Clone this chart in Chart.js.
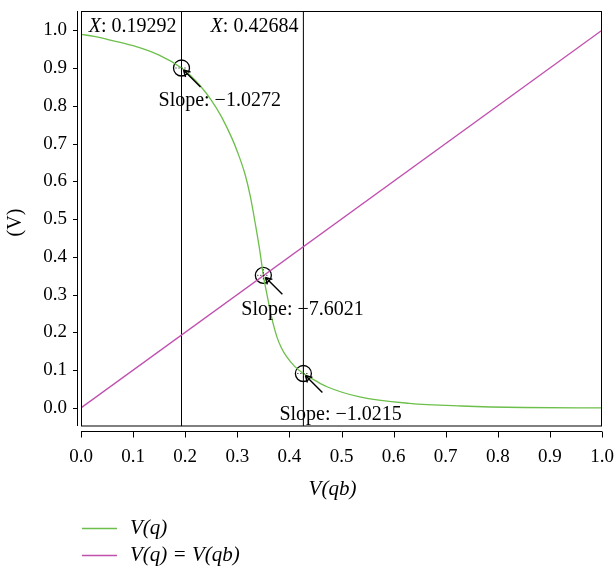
<!DOCTYPE html>
<html lang="en">
<head>
  <meta charset="UTF-8" />
  <title>V(q) vs V(qb)</title>
  <script src="https://cdn.jsdelivr.net/npm/chart.js"></script>
  <style>
    body {
      margin: 0;
      background: #fff;
    }
    canvas {
      display: block;
    }
  </style>
</head>
<body>
  <canvas id="chart" width="615" height="570"></canvas>

  <script>
    // values
    const vqX = [0, 0.025, 0.05, 0.10, 0.15, 0.19292, 0.21, 0.23, 0.25, 0.27, 0.29, 0.30, 0.315, 0.325,
                 0.335, 0.343, 0.350, 0.357, 0.365, 0.376, 0.385, 0.395, 0.41, 0.42684, 0.45, 0.472,
                 0.535, 0.63, 0.73, 0.85, 1.0];
    const vqY = [0.989, 0.984, 0.976, 0.959, 0.934, 0.900, 0.880, 0.851, 0.815, 0.770, 0.713, 0.679,
                 0.618, 0.560, 0.484, 0.418, 0.351, 0.300, 0.245, 0.188, 0.158, 0.135, 0.110, 0.091,
                 0.072, 0.056, 0.029, 0.012, 0.005, 0.001, 0.000];
    const diagX = [0, 1];
    const diagY = [0, 1];
    const markX = [0.19292, 0.350, 0.42684];
    const markY = [0.900, 0.351, 0.091];
    const slopes = ['\u22121.0272', '\u22127.6021', '\u22121.0215'];
    const cursorX = [0.19292, 0.42684];
    const cursorText = ['0.19292', '0.42684'];
    const xTicks = [0, 0.1, 0.2, 0.3, 0.4, 0.5, 0.6, 0.7, 0.8, 0.9, 1.0];
    const yTicks = [0, 0.1, 0.2, 0.3, 0.4, 0.5, 0.6, 0.7, 0.8, 0.9, 1.0];
    const legendNames = ['V(q)', 'V(q) = V(qb)'];

    const yMin = -0.048, yMax = 1.051;
    const green = '#6cbf4a';
    const pink = '#c04fae';
    const serif = '"Liberation Serif", "DejaVu Serif", serif';

    const toPts = (xs, ys) => xs.map((v, i) => ({ x: v, y: ys[i] }));

    const datasets = [
      {
        data: toPts(vqX, vqY),
        borderColor: green,
        borderWidth: 1.3,
        pointRadius: 0,
        cubicInterpolationMode: 'monotone'
      },
      {
        data: toPts(diagX, diagY),
        borderColor: pink,
        borderWidth: 1.3,
        pointRadius: 0
      }
    ];
    cursorX.forEach(cx => {
      datasets.push({
        data: [{ x: cx, y: yMin }, { x: cx, y: yMax }],
        borderColor: '#000',
        borderWidth: 1,
        pointRadius: 0
      });
    });
    datasets.push({
      type: 'scatter',
      data: toPts(markX, markY),
      pointStyle: 'circle',
      pointRadius: 8,
      backgroundColor: 'rgba(0,0,0,0)',
      borderColor: '#000',
      borderWidth: 1.3
    });

    const noPad = s => {
      s.paddingTop = 0;
      s.paddingBottom = 0;
      s.paddingLeft = 0;
      s.paddingRight = 0;
    };

    const decor = {
      id: 'decor',
      afterDraw(chart) {
        const { ctx, chartArea: a, scales: { x, y } } = chart;
        ctx.save();
        ctx.strokeStyle = '#000';
        ctx.fillStyle = '#000';
        ctx.lineWidth = 1;

        // frame and offset axes
        ctx.strokeRect(a.left + 0.5, a.top + 0.5, a.width - 1, a.height - 0.5);
        ctx.beginPath();
        ctx.moveTo(a.left - 3.5, a.top);
        ctx.lineTo(a.left - 3.5, a.bottom);
        yTicks.forEach(v => {
          const py = Math.round(y.getPixelForValue(v)) + 0.5;
          ctx.moveTo(a.left - 8, py);
          ctx.lineTo(a.left - 3.5, py);
        });
        const ay = a.bottom + 5.5;
        ctx.moveTo(a.left, ay);
        ctx.lineTo(a.right, ay);
        xTicks.forEach(v => {
          const px = Math.round(x.getPixelForValue(v)) + 0.5;
          ctx.moveTo(px, ay);
          ctx.lineTo(px, ay + 6);
        });
        ctx.stroke();

        // cursor labels
        ctx.textBaseline = 'middle';
        cursorX.forEach((cx, i) => {
          const right = x.getPixelForValue(cx) - 5;
          ctx.font = '20px ' + serif;
          const rest = ': ' + cursorText[i];
          const w = ctx.measureText(rest).width;
          ctx.textAlign = 'right';
          ctx.fillText(rest, right, a.top + 16);
          ctx.font = 'italic 20px ' + serif;
          ctx.fillText('X', right - w, a.top + 16);
        });

        // data tips: crosshair, arrow, slope text
        const offs = [[-23, 33], [-22, 34], [-24, 41]];
        markX.forEach((mx, i) => {
          const cx = x.getPixelForValue(mx);
          const cy = y.getPixelForValue(markY[i]);
          ctx.save();
          ctx.setLineDash([1, 2]);
          ctx.beginPath();
          ctx.moveTo(cx - 6, cy); ctx.lineTo(cx + 6, cy);
          ctx.moveTo(cx, cy - 6); ctx.lineTo(cx, cy + 6);
          ctx.stroke();
          ctx.restore();

          ctx.lineWidth = 1.4;
          ctx.beginPath();
          ctx.moveTo(cx + 19, cy + 19);
          ctx.lineTo(cx + 2, cy + 2);
          ctx.moveTo(cx + 2, cy + 2);
          ctx.lineTo(cx + 9, cy + 4);
          ctx.moveTo(cx + 2, cy + 2);
          ctx.lineTo(cx + 4, cy + 9);
          ctx.stroke();
          ctx.lineWidth = 1;

          ctx.font = '20px ' + serif;
          ctx.textAlign = 'left';
          ctx.fillText('Slope: ' + slopes[i], cx + offs[i][0], cy + offs[i][1]);
        });

        // axis titles
        ctx.textAlign = 'center';
        ctx.font = 'italic 21px ' + serif;
        ctx.fillText('V(qb)', (a.left + a.right) / 2 - 9, 489);
        ctx.save();
        ctx.translate(16, (a.top + a.bottom) / 2 + 4);
        ctx.rotate(-Math.PI / 2);
        ctx.font = '20px ' + serif;
        ctx.fillText('(V)', 0, 0);
        ctx.restore();

        // legend
        const cols = [green, pink];
        legendNames.forEach((name, i) => {
          const ly = 528.5 + i * 27;
          ctx.strokeStyle = cols[i];
          ctx.lineWidth = 1.5;
          ctx.beginPath();
          ctx.moveTo(82, ly);
          ctx.lineTo(117, ly);
          ctx.stroke();
          ctx.fillStyle = '#000';
          ctx.textAlign = 'left';
          ctx.font = 'italic 21px ' + serif;
          ctx.fillText(name, 130, ly);
        });
        ctx.restore();
      }
    };

    new Chart(document.getElementById('chart'), {
      type: 'line',
      data: { datasets },
      options: {
        responsive: false,
        animation: false,
        layout: { padding: { top: 11, right: 13, left: 0, bottom: 0 } },
        plugins: {
          legend: { display: false },
          tooltip: { enabled: false }
        },
        scales: {
          x: {
            type: 'linear',
            min: 0,
            max: 1,
            grid: { display: false, drawTicks: false },
            border: { display: false },
            afterBuildTicks: s => { s.ticks = xTicks.map(v => ({ value: v })); },
            afterFit: s => { s.height = 144; noPad(s); },
            ticks: {
              padding: 20,
              maxRotation: 0,
              color: '#000',
              font: { family: serif, size: 19 },
              callback: v => v.toFixed(1)
            }
          },
          y: {
            type: 'linear',
            min: yMin,
            max: yMax,
            grid: { display: false, drawTicks: false },
            border: { display: false },
            afterBuildTicks: s => { s.ticks = yTicks.map(v => ({ value: v })); },
            afterFit: s => { s.width = 81; noPad(s); },
            ticks: {
              padding: 14,
              color: '#000',
              font: { family: serif, size: 19 },
              callback: v => v.toFixed(1)
            }
          }
        }
      },
      plugins: [decor]
    });
  </script>
</body>
</html>
